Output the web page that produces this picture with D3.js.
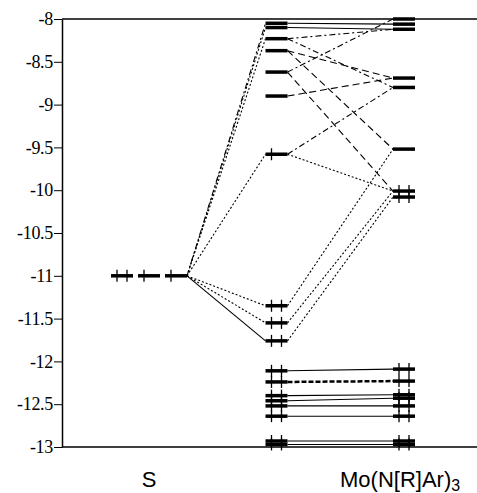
<!DOCTYPE html>
<html>
<head>
<meta charset="utf-8">
<script src="https://cdn.jsdelivr.net/npm/d3@7"></script>
<style>
  body { margin: 0; background: #fff; }
  svg { display: block; }
</style>
</head>
<body>
<svg id="chart" width="477" height="493"></svg>
<script>
// orbital energies (eV) and electron counts per column
var columns = ["S", "complex", "Mo"];
var sLevels = [-11, -11, -11];
var sElectrons = [2, 1, 1];
var midLevels = [-8.05, -8.10, -8.23, -8.37, -8.62, -8.90, -9.58, -11.35, -11.55, -11.76,
                 -12.11, -12.24, -12.40, -12.46, -12.52, -12.64, -12.93, -12.97];
var midElectrons = [0, 0, 0, 0, 0, 0, 1, 2, 2, 2, 2, 2, 2, 2, 2, 2, 2, 2];
var moLevels = [-8.00, -8.06, -8.12, -8.69, -8.80, -9.52, -10.01, -10.08,
                -12.09, -12.23, -12.39, -12.43, -12.52, -12.64, -12.93, -12.97];
var moElectrons = [0, 0, 0, 0, 0, 0, 2, 2, 2, 2, 2, 2, 2, 2, 2, 2];
var tickVals = [-8, -8.5, -9, -9.5, -10, -10.5, -11, -11.5, -12, -12.5, -13];

// correlation lines: S -> complex  [complex index, style]
var sLinks = [[9, "solid"], [8, "dot"], [7, "dot"], [6, "dot"], [2, "dot"], [1, "dot"], [0, "dashdot"]];
// complex -> Mo  [complex index, Mo index, style]
var moLinks = [[0, 1, "solid"], [1, 2, "solid"], [2, 2, "dashdot"], [2, 4, "dashdot"],
               [3, 3, "dash"], [3, 5, "dash"], [4, 0, "dashdot"], [4, 6, "dash"],
               [5, 3, "dash"], [6, 4, "dashdot"], [6, 6, "dot"],
               [7, 5, "dot"], [8, 6, "dot"], [9, 7, "dot"],
               [10, 8, "solid"], [11, 9, "dashthick"], [12, 10, "solid"], [13, 11, "solid"],
               [14, 12, "solid"], [15, 13, "solid"], [16, 14, "solid"], [17, 15, "solid"]];

var dashes = { solid: null, dot: "2,2", dash: "7,4", dashdot: "6,3,2,3", dashthick: "5,2" };

var svg = d3.select("#chart");

var y = d3.scaleLinear().domain([-13, -8]).range([447, 19]);
var x = d3.scalePoint().domain(columns).range([149, 404]);
var half = 11, sOffset = 27;

// frame lines
svg.append("line").attr("x1", 62).attr("x2", 477).attr("y1", y(-8)).attr("y2", y(-8))
    .attr("stroke", "#000").attr("stroke-width", 1.5);
svg.append("line").attr("x1", 62).attr("x2", 477).attr("y1", y(-13)).attr("y2", y(-13))
    .attr("stroke", "#000").attr("stroke-width", 1.5);

var axis = svg.append("g")
    .attr("transform", "translate(62,0)")
    .call(d3.axisLeft(y).tickValues(tickVals).tickSize(8).tickSizeOuter(0).tickPadding(1)
        .tickFormat(function (d) { return String(d); }));
axis.attr("font-family", "'Liberation Serif', 'DejaVu Serif', serif").attr("font-size", 18);
axis.select(".domain").attr("stroke-width", 1.5);
axis.selectAll("text").attr("fill", "#000").attr("letter-spacing", -0.3);

// helpers for bar positions
function sCenter(i) { return x("S") + (i - 1) * sOffset; }

var links = svg.append("g").attr("fill", "none").attr("stroke", "#000");

links.selectAll(".slink")
    .data(sLinks)
    .enter()
    .append("line")
    .attr("x1", sCenter(2) + half)
    .attr("y1", y(sLevels[2]))
    .attr("x2", x("complex") - half)
    .attr("y2", function (d) { return y(midLevels[d[0]]); })
    .attr("stroke-width", 1.1)
    .attr("stroke-dasharray", function (d) { return dashes[d[1]]; });

links.selectAll(".mlink")
    .data(moLinks)
    .enter()
    .append("line")
    .attr("x1", x("complex") + half)
    .attr("y1", function (d) { return y(midLevels[d[0]]); })
    .attr("x2", x("Mo") - half)
    .attr("y2", function (d) { return y(moLevels[d[1]]); })
    .attr("stroke-width", function (d) { return d[2] == "dashthick" ? 2.5 : 1.1; })
    .attr("stroke-dasharray", function (d) { return dashes[d[2]]; });

// orbital bars + electron crosses
function drawLevels(levels, electrons, cx) {
    var g = svg.append("g");
    levels.forEach(function (v, i) {
        var c = cx(i);
        g.append("line")
            .attr("x1", c - half).attr("x2", c + half)
            .attr("y1", y(v)).attr("y2", y(v))
            .attr("stroke", "#000").attr("stroke-width", 3.5);
        var offs = electrons[i] == 2 ? [-5, 5] : electrons[i] == 1 ? [-5] : [];
        offs.forEach(function (o) {
            g.append("line")
                .attr("x1", c + o).attr("x2", c + o)
                .attr("y1", y(v) - 6).attr("y2", y(v) + 6)
                .attr("stroke", "#000").attr("stroke-width", 1.3);
        });
    });
}

drawLevels(sLevels, sElectrons, sCenter);
drawLevels(midLevels, midElectrons, function () { return x("complex"); });
drawLevels(moLevels, moElectrons, function () { return x("Mo"); });

// column labels
svg.append("text")
    .attr("x", x("S")).attr("y", 487)
    .attr("text-anchor", "middle")
    .attr("font-family", "'Liberation Sans', Arial, sans-serif")
    .attr("font-size", 22)
    .text("S");

var mo = svg.append("text")
    .attr("x", 340).attr("y", 487)
    .attr("font-family", "'Liberation Sans', Arial, sans-serif")
    .attr("font-size", 22);
mo.append("tspan").text("Mo(N[R]Ar)");
mo.append("tspan").attr("dy", 4).attr("font-size", 16).text("3");
</script>
</body>
</html>
